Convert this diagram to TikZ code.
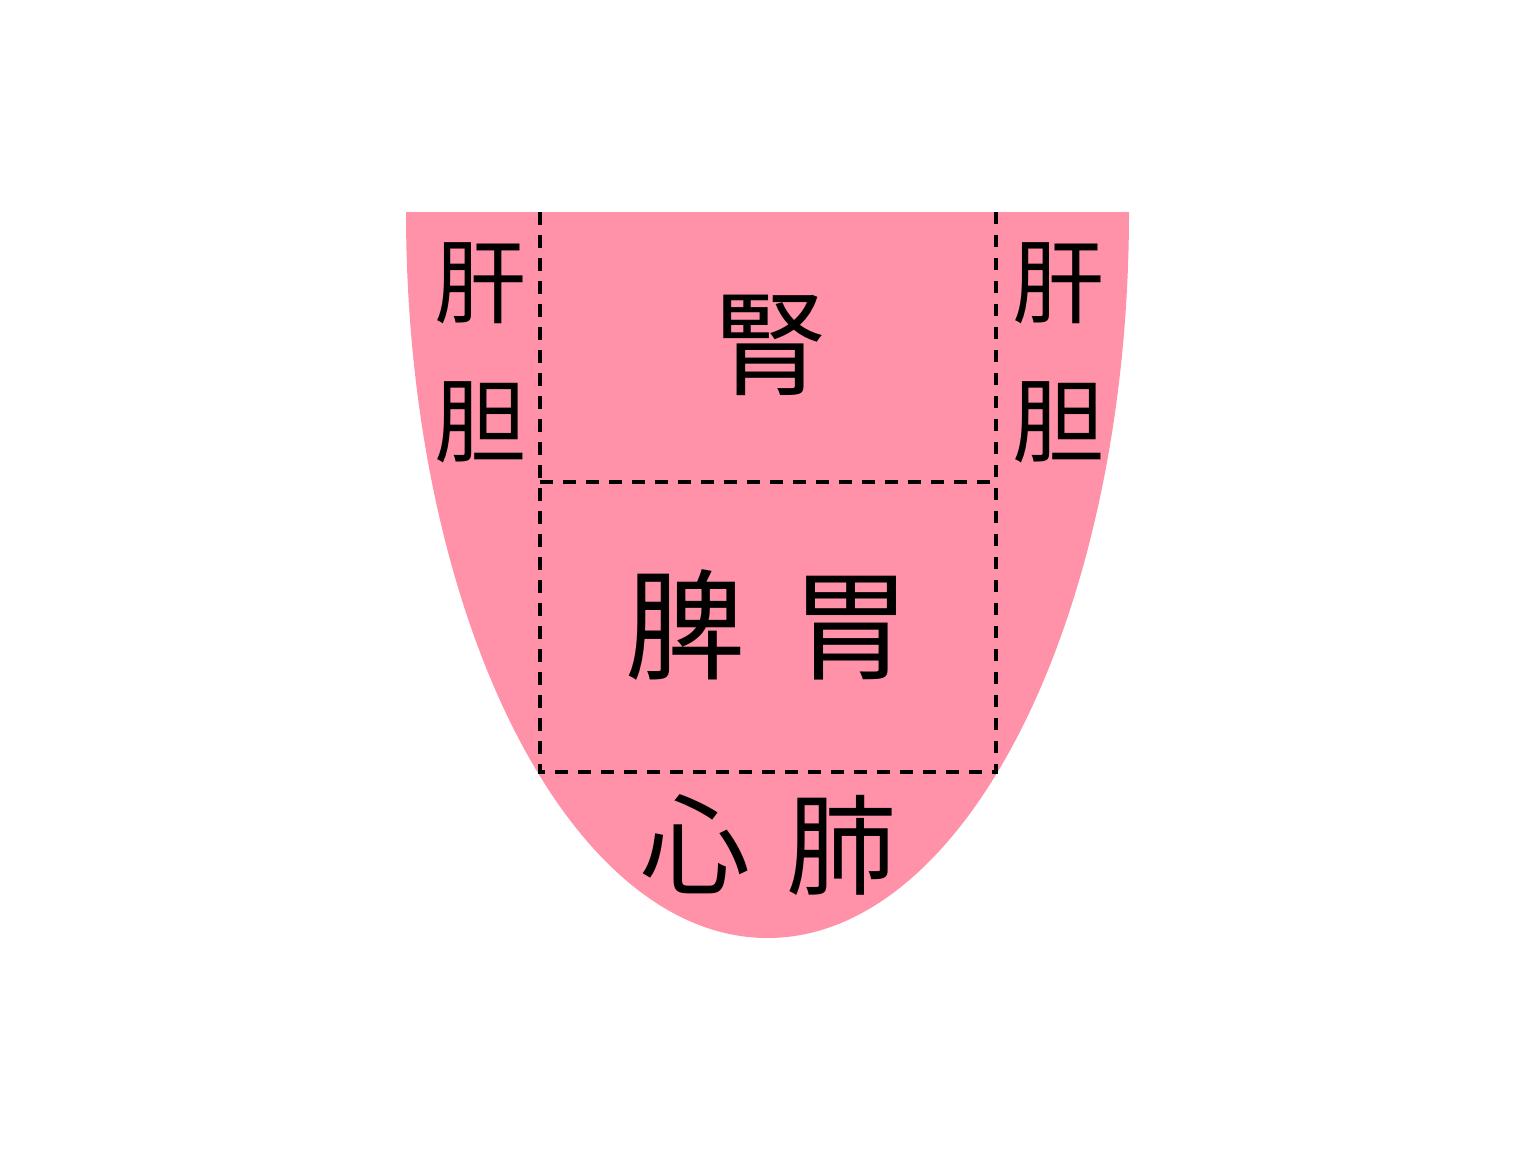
\documentclass[tikz,border=0pt]{standalone}
\usepackage{fontspec}
\newfontfamily\jp{Noto Sans CJK JP}
\definecolor{tongue}{RGB}{255,145,168}
\begin{document}
\begin{tikzpicture}[x=1pt,y=-1pt,
  organ/.style={anchor=base, inner sep=0pt, text=black},
  small/.style={organ, font=\jp\fontsize{92}{92}\selectfont},
  mid/.style={organ, font=\jp\fontsize{114}{114}\selectfont},
  big/.style={organ, font=\jp\fontsize{120}{120}\selectfont},
  low/.style={organ, font=\jp\fontsize{110}{110}\selectfont},
  divider/.style={line width=3.3pt, dash pattern=on 12.5pt off 10.5pt}]
\useasboundingbox (0,0) rectangle (1536,1152);
\fill[tongue] (406,212) -- (1129,212) arc[start angle=0, end angle=180, x radius=361.5, y radius=726] -- cycle;
\draw[divider] (540,212) -- (540,772) -- (996,772) -- (996,212);
\draw[divider] (540,482) -- (996,482);
\node[small] (ganL) at (480,316) {肝};
\node[small] (danL) at (480,455) {胆};
\node[small] (ganR) at (1058,316) {肝};
\node[small] (danR) at (1058,455) {胆};
\node[mid] (shen) at (770,386) {腎};
\node[big] (pi) at (685,670) {脾};
\node[big] (wei) at (851,670) {胃};
\node[low] (xin) at (695,886) {心};
\node[low] (fei) at (841,886) {肺};
\end{tikzpicture}
\end{document}
